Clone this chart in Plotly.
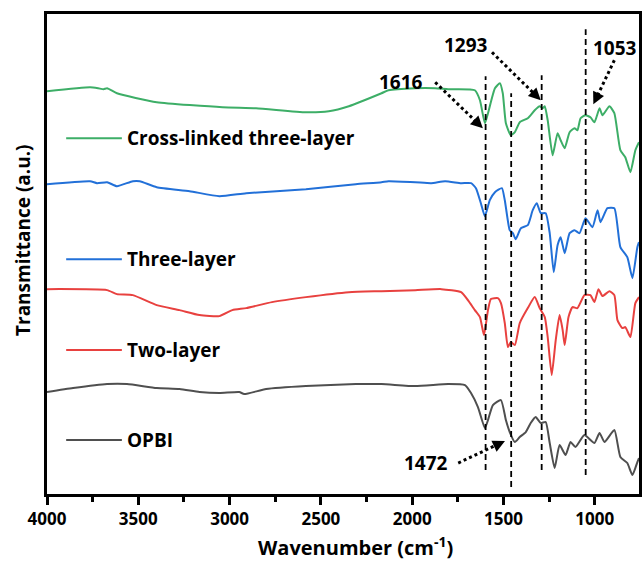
import plotly.graph_objects as go

# ---- data ----
green_wn = [4000, 3764, 3720, 3690, 3671, 3617, 3399, 3039, 2855, 2582, 2457, 2347, 2168, 2130, 1983, 1874,
            1803, 1657, 1629, 1602, 1585, 1547, 1520, 1504, 1487, 1460, 1438, 1411, 1367, 1329, 1302,
            1285, 1274, 1258, 1231, 1204, 1187, 1165, 1138, 1111, 1095, 1078, 1051, 1024, 1002, 974,
            958, 920, 893, 860, 833, 805, 778, 758]
green_t = [403, 407, 406, 405, 406, 401, 392, 387, 386, 382, 383, 388, 401, 404, 406, 406,
           405, 404, 394, 371, 381, 406, 411, 401, 371, 359, 362, 372, 376, 384, 388,
           386, 388, 374, 339, 361, 354, 346, 362, 366, 364, 376, 379, 377, 372, 386,
           379, 388, 381, 344, 337, 322, 344, 352]

blue_wn = [4000, 3764, 3726, 3671, 3617, 3530, 3492, 3399, 3219, 3056, 2909, 2582, 2309, 2168, 2130,
           1983, 1896, 1820, 1732, 1678, 1651, 1624, 1602, 1575, 1547, 1509, 1493, 1466, 1449, 1433,
           1405, 1367, 1340, 1318, 1296, 1269, 1247, 1225, 1204, 1187, 1165, 1138, 1111, 1084, 1051,
           1013, 985, 969, 931, 893, 860, 822, 794, 767, 758]
blue_t = [310, 313, 311, 312, 308, 313, 313, 307, 303, 298, 301, 305, 310, 312, 313,
          312, 311, 313, 311, 311, 306, 291, 278, 294, 302, 306, 294, 264, 261, 255,
          266, 269, 284, 291, 281, 281, 261, 222, 249, 257, 241, 261, 264, 261, 276,
          267, 284, 272, 286, 286, 247, 237, 216, 247, 252]

red_wn = [4000, 3671, 3617, 3530, 3399, 3274, 3165, 3056, 2985, 2909, 2768, 2582, 2347, 2168, 1983,
          1840, 1732, 1695, 1657, 1629, 1607, 1585, 1569, 1531, 1514, 1493, 1476, 1460, 1438, 1411,
          1367, 1329, 1302, 1274, 1258, 1236, 1214, 1193, 1176, 1165, 1144, 1122, 1095, 1057, 1024,
          1002, 980, 958, 920, 893, 876, 849, 833, 805, 778, 758]
red_t = [205, 204, 200, 199, 189, 184, 179, 178, 184, 186, 192, 197, 202, 203, 204,
         205, 202, 194, 184, 177, 159, 184, 195, 196, 191, 171, 147, 152, 149, 171,
         186, 197, 186, 177, 157, 119, 154, 179, 164, 149, 177, 187, 186, 199, 199,
         192, 205, 198, 203, 199, 174, 166, 167, 157, 191, 197]

gray_wn = [4000, 3857, 3671, 3562, 3399, 3274, 3165, 3056, 2947, 2920, 2800, 2582, 2309, 2168, 1983,
           1803, 1711, 1678, 1640, 1602, 1585, 1558, 1514, 1487, 1466, 1438, 1411, 1378, 1351, 1324,
           1296, 1269, 1247, 1220, 1193, 1160, 1133, 1106, 1057, 1002, 974, 947, 893, 860, 822,
           794, 767, 758]
gray_t = [102, 106, 110, 110, 106, 105, 102, 101, 102, 100, 105, 108, 110, 110, 108,
          110, 109, 101, 87, 66, 74, 89, 94, 74, 62, 52, 57, 62, 71, 77,
          71, 72, 51, 26, 49, 39, 52, 47, 59, 51, 61, 52, 64, 37, 31,
          19, 32, 36]

series_names = ["Cross-linked three-layer", "Three-layer", "Two-layer", "OPBI"]
series_colors = ["#3dae67", "#2270d8", "#e8413f", "#4f4f4f"]
series_wn = [green_wn, blue_wn, red_wn, gray_wn]
series_t = [green_t, blue_t, red_t, gray_t]

# dashed reference lines (wavenumber, y-from, y-to)
ref_lines_wn = [1598, 1458, 1291, 1050]
ref_lines_y0 = [24, 7, 24, 19]
ref_lines_y1 = [418, 401, 419, 465]

# peak labels
peak_labels = ["1616", "1293", "1053", "1472"]

FONT = "Open Sans"

fig = go.Figure()
for wn, t, name, col in zip(series_wn, series_t, series_names, series_colors):
    fig.add_trace(go.Scatter(x=wn, y=t, mode="lines", name=name,
                             line=dict(color=col, width=2, shape="spline", smoothing=0.5),
                             showlegend=False))

# legend-like labels
legend_y = [356, 235, 144, 54]
for name, col, ly in zip(series_names, series_colors, legend_y):
    fig.add_shape(type="line", x0=3895, x1=3590, y0=ly, y1=ly, xref="x", yref="y",
                  line=dict(color=col, width=2))
    fig.add_annotation(x=3575, y=ly, text=name, showarrow=False, xanchor="left",
                       yanchor="middle", font=dict(family=FONT, size=19, color="black",
                                                   weight="bold"))

# dashed vertical lines
for xw, y0, y1 in zip(ref_lines_wn, ref_lines_y0, ref_lines_y1):
    fig.add_shape(type="line", x0=xw, x1=xw, y0=y0, y1=y1, xref="x", yref="y",
                  line=dict(color="black", width=1.8, dash="6px,4px"))

# label text positions and dotted arrows
label_pos = [(2064, 412), (1704, 449), (888, 446), (1922, 31)]
arrow_start = [(1874, 412), (1563, 442), (893, 434), (1748, 31)]
arrow_end = [(1613, 366), (1296, 394), (1008, 390), (1492, 53)]
for lab, (lx, ly), (sx, sy), (ex, ey) in zip(peak_labels, label_pos, arrow_start, arrow_end):
    fig.add_annotation(x=lx, y=ly, text=lab, showarrow=False, xanchor="center",
                       yanchor="middle", font=dict(family=FONT, size=19, color="black",
                                                   weight="bold"))
    fig.add_shape(type="line", x0=sx, y0=sy, x1=sx + 0.88 * (ex - sx), y1=sy + 0.88 * (ey - sy),
                  xref="x", yref="y", line=dict(color="black", width=3, dash="dot"))
    fig.add_annotation(x=ex, y=ey, ax=ex - 0.15 * (ex - sx), ay=ey - 0.15 * (ey - sy),
                       axref="x", ayref="y", xref="x", yref="y", text="", showarrow=True,
                       arrowhead=2, arrowsize=1.1, arrowwidth=2.2, arrowcolor="black",
                       standoff=0)

# axis titles
fig.add_annotation(xref="paper", yref="paper", x=0, y=0.5, xshift=-24, yshift=14,
                   text="Transmittance (a.u.)", textangle=-90, showarrow=False,
                   xanchor="center", yanchor="middle",
                   font=dict(family=FONT, size=19, color="black", weight="bold"))
fig.add_annotation(xref="paper", yref="paper", x=0.5, y=0, xshift=12, yshift=-52,
                   text="Wavenumber (cm<sup>-1</sup>)", showarrow=False,
                   xanchor="center", yanchor="middle",
                   font=dict(family=FONT, size=20, color="black", weight="bold"))

fig.update_xaxes(range=[4000, 758], showline=True, mirror=True, linewidth=2.5,
                 linecolor="black", ticks="outside", ticklen=8, tickwidth=2.5,
                 tickcolor="black", dtick=500, tick0=0, showgrid=False, zeroline=False,
                 minor=dict(ticks="outside", ticklen=5, tickwidth=2.5, dtick=250,
                            tickcolor="black"),
                 tickfont=dict(family=FONT, size=17, color="black", weight="bold"))
fig.update_yaxes(range=[0, 480.3], showline=True, mirror=True, linewidth=2.5,
                 linecolor="black", ticks="", showticklabels=False, showgrid=False,
                 zeroline=False)
fig.update_layout(width=644, height=563, margin=dict(l=47, r=2, t=14, b=69),
                  plot_bgcolor="white", paper_bgcolor="white")
fig.write_html("out.html")
